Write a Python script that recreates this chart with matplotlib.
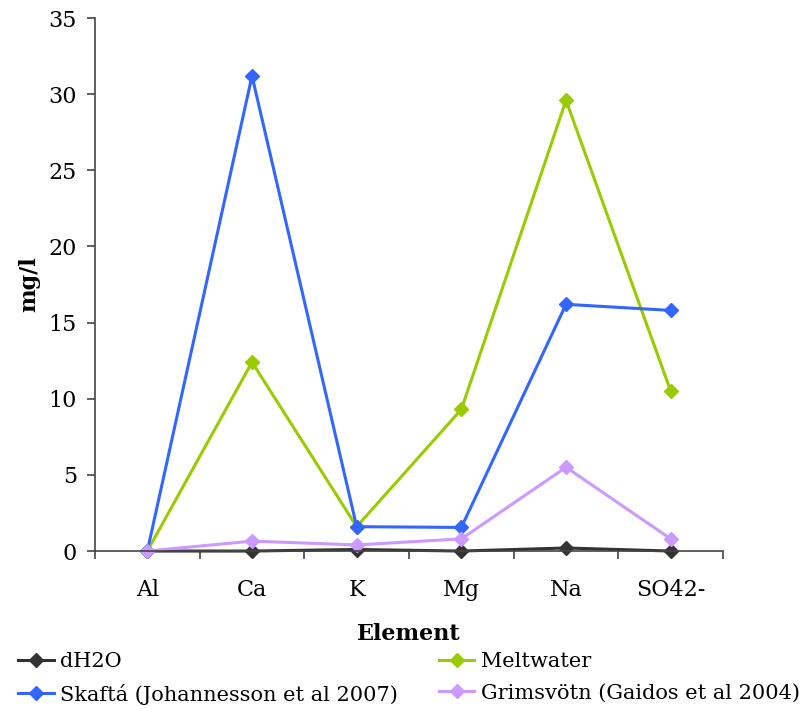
import matplotlib
matplotlib.use("Agg")
import matplotlib.pyplot as plt
import numpy as np

elements = ["Al", "Ca", "K", "Mg", "Na", "SO42-"]
dh2o = [0.0, 0.0, 0.1, 0.0, 0.2, 0.0]
meltwater = [0.0, 12.4, 1.6, 9.3, 29.6, 10.5]
skafta = [0.0, 31.2, 1.6, 1.55, 16.2, 15.8]
grimsvotn = [0.0, 0.65, 0.4, 0.8, 5.5, 0.8]

series = [
    ("dH2O", dh2o, "#333333"),
    ("Meltwater", meltwater, "#99cc00"),
    ("Skaftá (Johannesson et al 2007)", skafta, "#3366ff"),
    ("Grimsvötn (Gaidos et al 2004)", grimsvotn, "#cc99ff"),
]

plt.rcParams["font.family"] = ["DejaVu Serif"]
fig = plt.figure(figsize=(8.03, 7.09), dpi=100)
ax = fig.add_axes([0.1183, 0.2228, 0.7821, 0.7518])

x = np.arange(len(elements))
handles = {}
for name, vals, col in series:
    h, = ax.plot(x, vals, color=col, lw=2.2, marker="D", ms=7,
                 markeredgecolor=col, label=name, clip_on=False)
    handles[name] = h

ax.set_xlim(-0.5, len(elements) - 0.5)
ax.set_ylim(0, 35)
ax.set_yticks(np.arange(0, 36, 5))
ax.set_xticks(x)
ax.set_xticklabels(elements)
ax.set_xticks(np.arange(-0.5, len(elements), 1.0), minor=True)
ax.tick_params(axis="x", which="major", length=0, pad=20, labelsize=16)
ax.tick_params(axis="x", which="minor", length=6, width=1.2, color="#444444", direction="out")
ax.tick_params(axis="y", length=6, width=1.2, color="#444444", pad=7, labelsize=16)

for s in ["top", "right"]:
    ax.spines[s].set_visible(False)
for s in ["left", "bottom"]:
    ax.spines[s].set_color("#444444")
    ax.spines[s].set_linewidth(1.2)

ax.set_ylabel("mg/l", fontsize=16, fontweight="bold", labelpad=6)
ax.set_xlabel("Element", fontsize=16, fontweight="bold", labelpad=16)

order = ["dH2O", "Skaftá (Johannesson et al 2007)", "Meltwater", "Grimsvötn (Gaidos et al 2004)"]
fig.legend([handles[n] for n in order], order, loc="lower left",
           bbox_to_anchor=(0.02, 0.003), ncol=2, frameon=False, fontsize=15,
           handlelength=1.7, handletextpad=0.33, columnspacing=1.95,
           labelspacing=0.62, borderaxespad=0.1, borderpad=0.0)

fig.savefig("out.png", dpi=100)
